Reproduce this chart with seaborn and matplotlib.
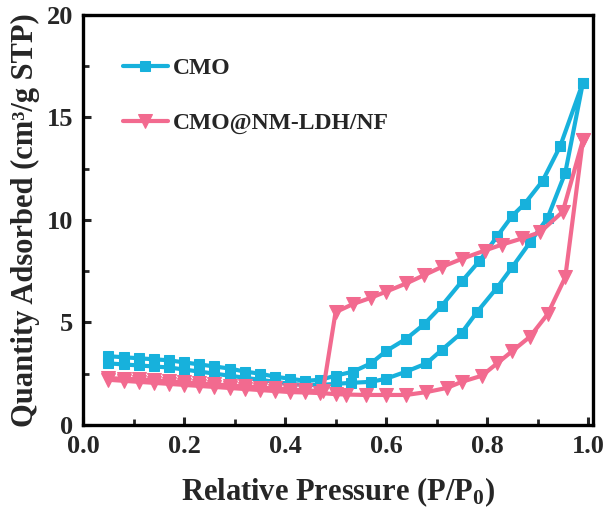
import numpy as np
import pandas as pd
import matplotlib
matplotlib.use("Agg")
import matplotlib.pyplot as plt
import seaborn as sns

# CMO isotherm (adsorption branch then desorption branch)
cmo_ads_p = [0.05, 0.08, 0.11, 0.14, 0.17, 0.20, 0.23, 0.26, 0.29, 0.32, 0.35, 0.38, 0.41, 0.44, 0.47,
             0.50, 0.53, 0.57, 0.60, 0.64, 0.68, 0.71, 0.75, 0.78, 0.82, 0.85, 0.885, 0.92, 0.955, 0.99]
cmo_ads_v = [3.0, 2.95, 2.9, 2.85, 2.8, 2.7, 2.6, 2.5, 2.4, 2.3, 2.2, 2.1, 2.0, 1.95, 1.95,
             2.0, 2.05, 2.1, 2.25, 2.6, 3.0, 3.65, 4.5, 5.5, 6.7, 7.7, 8.9, 10.1, 12.3, 16.7]
cmo_des_p = [0.99, 0.945, 0.91, 0.875, 0.85, 0.82, 0.785, 0.75, 0.71, 0.675, 0.64, 0.60, 0.57, 0.535, 0.50,
             0.47, 0.44, 0.41, 0.38, 0.35, 0.32, 0.29, 0.26, 0.23, 0.20, 0.17, 0.14, 0.11, 0.08, 0.05]
cmo_des_v = [16.7, 13.6, 11.9, 10.8, 10.2, 9.2, 8.0, 7.0, 5.8, 4.9, 4.2, 3.6, 3.0, 2.6, 2.4,
             2.2, 2.15, 2.25, 2.35, 2.5, 2.6, 2.75, 2.85, 2.95, 3.05, 3.15, 3.2, 3.25, 3.3, 3.35]

# CMO@NM-LDH/NF isotherm
ldh_ads_p = [0.05, 0.08, 0.11, 0.14, 0.17, 0.20, 0.23, 0.26, 0.29, 0.32, 0.35, 0.38, 0.41, 0.44, 0.47,
             0.50, 0.52, 0.56, 0.60, 0.64, 0.68, 0.72, 0.75, 0.79, 0.82, 0.85, 0.885, 0.92, 0.955, 0.99]
ldh_ads_v = [2.2, 2.15, 2.1, 2.05, 2.0, 1.95, 1.9, 1.85, 1.8, 1.75, 1.7, 1.65, 1.6, 1.58, 1.55,
             1.5, 1.48, 1.46, 1.46, 1.46, 1.6, 1.8, 2.1, 2.4, 3.0, 3.6, 4.3, 5.4, 7.2, 13.9]
ldh_des_p = [0.99, 0.95, 0.905, 0.87, 0.83, 0.795, 0.75, 0.71, 0.675, 0.64, 0.60, 0.57, 0.535, 0.50, 0.475,
             0.44, 0.41, 0.38, 0.35, 0.32, 0.29, 0.26, 0.23, 0.20, 0.17, 0.14, 0.11, 0.08, 0.05]
ldh_des_v = [13.9, 10.4, 9.4, 9.1, 8.8, 8.5, 8.1, 7.7, 7.3, 6.9, 6.5, 6.2, 5.9, 5.5, 1.65,
             1.68, 1.72, 1.78, 1.82, 1.88, 1.92, 1.98, 2.02, 2.08, 2.12, 2.18, 2.22, 2.25, 2.28]

cmo = pd.DataFrame({"p": cmo_ads_p + cmo_des_p, "v": cmo_ads_v + cmo_des_v})
ldh = pd.DataFrame({"p": ldh_ads_p + ldh_des_p, "v": ldh_ads_v + ldh_des_v})

sns.set_style("ticks")
plt.rcParams["font.family"] = ["Liberation Serif", "DejaVu Serif"]
plt.rcParams["font.weight"] = "bold"
plt.rcParams["mathtext.fontset"] = "custom"
plt.rcParams["mathtext.rm"] = "Liberation Serif:bold"
plt.rcParams["mathtext.it"] = "Liberation Serif:bold"
plt.rcParams["mathtext.bf"] = "Liberation Serif:bold"

fig = plt.figure(figsize=(6.07, 5.15), dpi=100)
ax = fig.add_axes([0.137, 0.175, 0.840, 0.796])

blue = "#17B1DC"
pink = "#F26A8F"
sns.lineplot(data=cmo, x="p", y="v", sort=False, estimator=None, color=blue, lw=3,
             marker="s", markersize=7.5, markeredgecolor=blue, label="CMO", ax=ax)
sns.lineplot(data=ldh, x="p", y="v", sort=False, estimator=None, color=pink, lw=3,
             marker="v", markersize=9.5, markeredgecolor=pink, label="CMO@NM-LDH/NF", ax=ax)

ax.set_xlim(0, 1.01)
ax.set_ylim(0, 20)
ax.set_xticks([0.0, 0.2, 0.4, 0.6, 0.8, 1.0])
ax.set_xticks(np.arange(0.1, 1.0, 0.2), minor=True)
ax.set_yticks([0, 5, 10, 15, 20])
ax.set_yticks([2.5, 7.5, 12.5, 17.5], minor=True)
ax.tick_params(which="major", direction="in", length=6, width=2.2, labelsize=19, pad=7)
ax.tick_params(which="minor", direction="in", length=4, width=2.0)
for lab in ax.get_xticklabels() + ax.get_yticklabels():
    lab.set_fontweight("bold")
for s in ax.spines.values():
    s.set_linewidth(2.4)
    s.set_color("black")

ax.set_xlabel(r"Relative Pressure (P/P$_0$)", fontsize=22, fontweight="bold", labelpad=13)
ax.set_ylabel("Quantity Adsorbed (cm³/g STP)", fontsize=22, fontweight="bold", labelpad=5)

ax.legend(loc="upper left", bbox_to_anchor=(0.05, 0.93), frameon=False, fontsize=17,
          handlelength=1.9, handletextpad=0.2, labelspacing=1.4, borderaxespad=0.2)

fig.savefig("out.png", dpi=100)
